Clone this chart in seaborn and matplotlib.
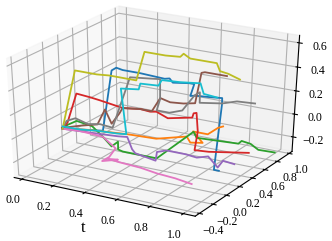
import matplotlib
matplotlib.use("Agg")
import matplotlib.pyplot as plt
import seaborn as sns

# paths, one color each (tab10 order)
t0 = [-0.02,0.07,0.20,0.20,0.23,0.27,0.38,0.53,0.56,0.58,0.68,0.71,0.72,0.75,0.84,0.91,0.91,0.92,0.95]
y0 = [.15,.2,.24,.38,.38,.38,.38,.38,.38,.38,.38,.38,.3,.3,.3,.3,.3,.18,.18]
z0 = [-0.11,-0.11,-0.10,0.37,0.40,0.39,0.39,0.38,0.39,0.36,0.38,0.38,0.31,0.32,0.33,0.34,0.29,-0.22,-0.22]

t1 = [-0.02,0.11,0.32,0.50,0.69,0.70,0.76,0.76,0.85,0.91,0.94]
y1 = [.15,.25,.33,.33,.33,.36,.4,.25,.25,.25,.25]
z1 = [-0.11,-0.12,-0.13,-0.12,-0.05,-0.11,-0.11,0.04,0.04,0.11,0.13]

t2 = [-0.02,-0.01,0.05,0.15,0.17,0.19,0.21,0.21,0.24,0.32,0.46,0.46,0.48,0.75,0.77,0.82,0.87,0.97]
y2 = [.15,.2,.2,.2,.3,.38,.43,.43,.43,.43,.43,1.0,1.0,1.0,1.0,1.02,1.02,1.03]
z2 = [-0.11,-0.09,-0.04,-0.06,-0.18,-0.29,-0.26,-0.33,-0.34,-0.34,-0.34,-0.30,-0.35,-0.33,-0.30,-0.32,-0.36,-0.36]

t3 = [-0.02,-0.01,-0.05,0.04,0.10,0.25,0.36,0.41,0.45,0.50,0.62,0.62,0.63,0.64,0.63,0.72,0.96]
y3 = [.15,.2,.42,.42,.42,.42,.42,.45,.45,.5,.58,.6,.62,.62,.6,.6,.62]
z3 = [-0.11,-0.07,0.10,0.09,0.08,0.05,0.07,0.05,0.06,0.00,0.01,0.04,0.04,-0.12,-0.28,-0.27,-0.22]

t4 = [-0.02,0.17,0.26,0.32,0.35,0.37,0.50,0.50,0.56,0.68,0.75,0.82,0.88,0.88,0.95]
y4 = [.15,.3,.32,.32,.32,.32,.32,.34,.34,.34,.34,.34,.34,.42,.42]
z4 = [-0.11,-0.16,-0.16,-0.15,-0.25,-0.28,-0.31,-0.24,-0.21,-0.21,-0.22,-0.19,-0.27,-0.24,-0.25]

t5 = [0.00,0.13,0.24,0.29,0.33,0.38,0.40,0.51,0.58,0.58,0.64,0.72,0.79,0.78,0.80,0.93]
y5 = [.1,.08,.08,.08,.08,.08,.08,.08,.08,.2,.2,.2,.2,.31,.31,.31]
z5 = [-0.08,-0.02,0.02,0.16,0.05,0.15,0.20,0.22,0.22,0.29,0.27,0.28,0.30,0.51,0.52,0.52]

t6 = [-0.02,0.09,0.24,0.32,0.37,0.37,0.47,0.41,0.48,0.61,0.71,0.82,0.92]
y6 = [.15,.15,.15,.15,-.05,-.15,-.15,-.15,-.15,-.15,-.15,-.15,-.15]
z6 = [-0.11,-0.10,-0.11,-0.19,-0.18,-0.18,-0.14,-0.15,-0.16,-0.17,-0.19,-0.20,-0.22]

t7 = [-0.02,-0.04,-0.00,0.08,0.16,0.24,0.24,0.37,0.43,0.43,0.43,0.43,0.51,0.59,0.60,0.60,0.60,0.74,0.83,0.94]
y7 = [.15,.25,.29,.29,.29,.29,.55,.55,.55,.55,.55,.5,.5,.5,.66,.74,.74,.74,.74,.74]
z7 = [-0.11,-0.08,-0.06,-0.09,-0.07,-0.08,0.27,0.29,0.30,0.27,0.13,0.05,0.05,0.09,0.17,0.17,0.08,0.11,0.15,0.16]

t8 = [-0.02,-0.04,0.01,0.10,0.18,0.28,0.35,0.35,0.38,0.48,0.57,0.59,0.63,0.68,0.79,0.81,0.86,0.93]
y8 = [.15,.39,.39,.39,.39,.39,.39,.51,.51,.51,.51,.51,.51,.51,.51,.51,.51,.51]
z8 = [-0.11,0.31,0.31,0.31,0.32,0.32,0.32,0.52,0.52,0.52,0.53,0.56,0.53,0.53,0.53,0.47,0.46,0.43]

t9 = [-0.02,0.07,0.16,0.29,0.35,0.36,0.47,0.48,0.59,0.61,0.72,0.84,0.86,0.94]
y9 = [.15,.2,.24,.24,.24,.15,.15,.15,.15,.15,.15,.15,.15,.15]
z9 = [-0.09,-0.11,-0.11,-0.10,-0.09,0.33,0.35,0.40,0.41,0.46,0.47,0.49,0.41,0.40]

paths = [(t0,y0,z0),(t1,y1,z1),(t2,y2,z2),(t3,y3,z3),(t4,y4,z4),
         (t5,y5,z5),(t6,y6,z6),(t7,y7,z7),(t8,y8,z8),(t9,y9,z9)]

x_ticks = [0, 0.2, 0.4, 0.6, 0.8, 1.0]
y_ticks = [-0.4, -0.2, 0, 0.2, 0.4, 0.6, 0.8, 1.0]
z_ticks = [-0.2, 0, 0.2, 0.4, 0.6]

plt.rcParams["font.family"] = ["Liberation Serif", "DejaVu Sans"]

colors = sns.color_palette("tab10")

fig = plt.figure(figsize=(3.32, 2.41), dpi=100)
ax = fig.add_axes([-0.075, 0.07, 1.058, 0.945], projection="3d")
ax.set_box_aspect((1, 1, 1), zoom=1.0)
# stretch the box to the whole axes rectangle
ax.apply_aspect = lambda position=None: None

for i, (t, y, z) in enumerate(paths):
    ax.plot(t, y, z, color=colors[i], lw=1.3)

ax.set_xlim(-0.05, 1.07)
ax.set_ylim(-0.46, 1.05)
ax.set_zlim(-0.33, 0.66)
ax.set_xticks(x_ticks)
ax.set_yticks(y_ticks)
ax.set_zticks(z_ticks)
ax.tick_params(labelsize=8.5, pad=0)
ax.tick_params(axis="x", pad=1)
ax.tick_params(axis="z", pad=0)
ax.set_xlabel("t", fontsize=12, labelpad=-2)

fig.savefig("out.png", dpi=100)
